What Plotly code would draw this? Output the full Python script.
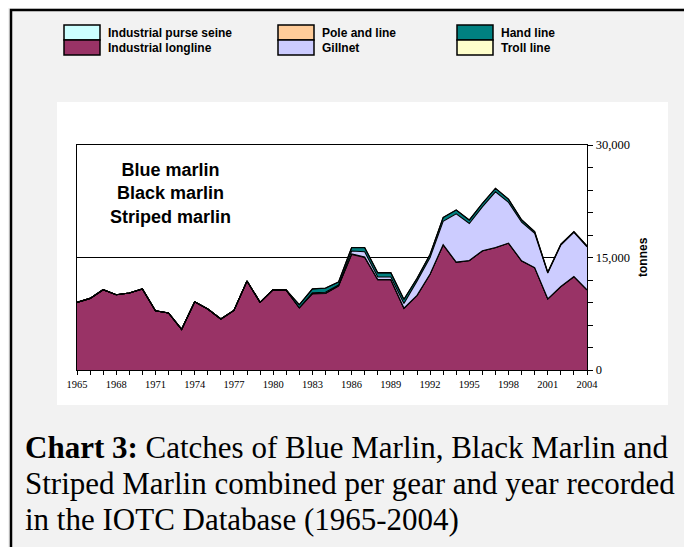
import plotly.graph_objects as go

years = list(range(1965, 2005))

longline = [9020, 9550, 10710, 10040, 10260, 10800, 7910, 7600, 5420, 9110,
            8130, 6800, 7950, 11870, 9020, 10710, 10650, 8300, 10150, 10200,
            11200, 15400, 15000, 12000, 12000, 8200, 9910, 12760, 16670, 14350,
            14580, 15870, 16310, 16890, 14530, 13640, 9470, 11110, 12440, 10670]
purse_seine = [0] * 18 + [40, 50, 60, 80, 80, 60, 60, 60, 40, 40, 40, 40,
                          30, 30, 30, 30, 30, 20, 20, 20, 20, 20]
pole_line = [0] * 40
gillnet = [0] * 18 + [100, 110, 60, 380, 680, 340, 340, 600, 1900, 2200, 3120, 6430,
                      4920, 5850, 7420, 5430, 5140, 4570, 3430, 5530, 5880, 5740]
hand_line = [0] * 16 + [20, 400, 500, 550, 400, 450, 550, 550, 550, 550, 350, 400,
                        500, 500, 450, 450, 450, 400, 300, 200, 100, 100, 100, 100]
troll_line = [0] * 17 + [20, 30, 30, 30, 30, 30, 30, 30, 30, 30, 30, 30, 30,
                         30, 30, 30, 30, 30, 20, 20, 20, 20, 20]

stack = [
    ("Industrial longline", longline, "#993366"),
    ("Industrial purse seine", purse_seine, "#CCFFFF"),
    ("Pole and line", pole_line, "#FFCC99"),
    ("Gillnet", gillnet, "#CCCCFF"),
    ("Hand line", hand_line, "#008080"),
    ("Troll line", troll_line, "#FFFFCC"),
]
colors = {name: c for name, _, c in stack}

legend_cols = [["Industrial purse seine", "Industrial longline"],
               ["Pole and line", "Gillnet"],
               ["Hand line", "Troll line"]]

x_ticks = list(range(1965, 2005, 3))
y_ticks = [0, 15000, 30000]
y_ticktext = ["0", "15,000", "30,000"]

# page has an 8px body margin: figure is drawn from screen (8, 8)
OFF = 8
W, H = 692 - OFF, 547 - OFF
L, R, T, B = 77, 587, 145, 370  # plot area in screen pixels


def px(x):
    return (x - L) / (R - L)


def py(y):
    return (B - y) / (B - T)


fig = go.Figure()
for name, vals, col in stack:
    fig.add_trace(go.Scatter(
        x=years, y=vals, name=name, stackgroup="one", mode="lines",
        line=dict(color="black", width=1.1), fillcolor=col, showlegend=False))

shapes = []
# outer frame
shapes.append(dict(type="rect", xref="paper", yref="paper", x0=px(11), x1=px(720),
                   y0=py(580), y1=py(10), line=dict(color="black", width=2.5),
                   fillcolor="rgba(0,0,0,0)", layer="below"))
# white chart panel
shapes.append(dict(type="rect", xref="paper", yref="paper", x0=px(57), x1=px(668),
                   y0=py(405), y1=py(102), line=dict(width=0),
                   fillcolor="white", layer="below"))

annotations = []
sw_x = [64, 278, 457]
for ci, col_items in enumerate(legend_cols):
    for ri, name in enumerate(col_items):
        y0 = 25 + ri * 15
        shapes.append(dict(type="rect", xref="paper", yref="paper",
                           x0=px(sw_x[ci]), x1=px(sw_x[ci] + 36),
                           y0=py(y0 + 15), y1=py(y0),
                           line=dict(color="black", width=1.5),
                           fillcolor=colors[name]))
        annotations.append(dict(xref="paper", yref="paper", x=px(sw_x[ci] + 42),
                                y=py(y0 + 7.5), xanchor="left", yanchor="middle",
                                text="<b>" + name + "</b>", showarrow=False,
                                font=dict(family="Liberation Sans", size=12, color="black")))

annotations.append(dict(xref="paper", yref="paper", x=px(170), y=py(193),
                        xanchor="center", yanchor="middle", align="center",
                        text="<b>Blue marlin<br>Black marlin<br>Striped marlin</b>",
                        showarrow=False,
                        font=dict(family="Liberation Sans", size=18, color="black")))

annotations.append(dict(xref="paper", yref="paper", x=px(643), y=py(257),
                        xanchor="center", yanchor="middle", textangle=-90,
                        text="<b>tonnes</b>", showarrow=False,
                        font=dict(family="Liberation Sans", size=12, color="black")))

caption = ["<b>Chart 3:</b> Catches of Blue Marlin, Black Marlin and",
           "Striped Marlin combined per gear and year recorded",
           "in the IOTC Database (1965-2004)"]
for i, line in enumerate(caption):
    annotations.append(dict(xref="paper", yref="paper", x=px(23), y=py(447 + 36 * i),
                            xanchor="left", yanchor="middle", text=line,
                            showarrow=False,
                            font=dict(family="Liberation Serif", size=31, color="black")))

fig.update_layout(
    width=W, height=H,
    margin=dict(l=L - OFF, r=W - (R - OFF), t=T - OFF, b=H - (B - OFF), pad=0),
    paper_bgcolor="#F2F2F2", plot_bgcolor="white",
    showlegend=False,
    shapes=shapes, annotations=annotations,
    xaxis=dict(range=[1965, 2004], tickvals=x_ticks, ticks="outside", ticklen=4,
               tickcolor="black", tickwidth=1,
               minor=dict(dtick=1, tick0=1965, ticks="outside", ticklen=4,
                          tickcolor="black", tickwidth=1),
               showline=True, linecolor="black", linewidth=1.3, mirror=True,
               showgrid=False, zeroline=False,
               tickfont=dict(family="Liberation Serif", size=10.5, color="black")),
    yaxis=dict(range=[0, 30000], side="right", tickvals=y_ticks, ticktext=y_ticktext,
               ticks="outside", ticklen=5, tickcolor="black", tickwidth=1,
               minor=dict(dtick=3000, tick0=0, ticks="outside", ticklen=5,
                          tickcolor="black", tickwidth=1, showgrid=False),
               showline=True, linecolor="black", linewidth=1.3, mirror=True,
               showgrid=True, gridcolor="black", gridwidth=1, zeroline=False,
               tickfont=dict(family="Liberation Serif", size=12.5, color="black")),
)

fig.write_html("out.html")
